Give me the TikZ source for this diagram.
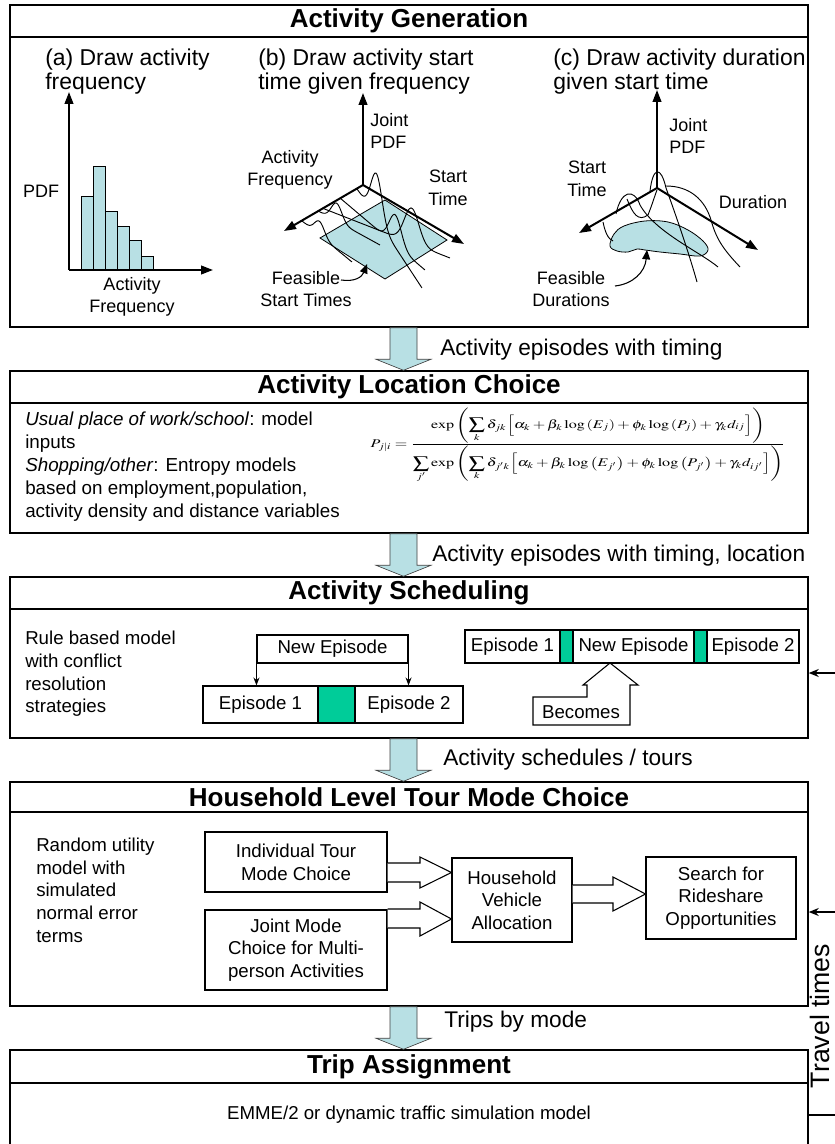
\documentclass[tikz,border=0pt]{standalone}
\usepackage{mathptmx}
\usepackage[no-math]{fontspec}
\setmainfont{Liberation Sans}
\usepackage{graphicx}
\usetikzlibrary{arrows.meta,calc}
\definecolor{lblue}{RGB}{184,224,228}
\definecolor{egreen}{RGB}{0,204,153}
\tikzset{
  frame/.style={draw, line width=1.1pt, inner sep=0pt},
  sz/.style 2 args={minimum width=#1*0.75pt, minimum height=#2*0.75pt},
  divider/.style={line width=1.5pt},
  ttl/.style={font=\bfseries\fontsize{19.5}{22}\selectfont, inner sep=0pt},
  hdr/.style={font=\fontsize{17.2}{18}\selectfont, align=left, inner sep=0pt, anchor=west},
  lab/.style={font=\fontsize{13.5}{17}\selectfont, align=center, inner sep=0pt},
  body/.style={font=\fontsize{14}{17}\selectfont, align=left, inner sep=0pt, anchor=west},
  flow/.style={font=\fontsize{17}{20}\selectfont, inner sep=0pt, anchor=west},
  inbox/.style={draw, line width=0.8pt, inner sep=0pt, font=\fontsize{14}{17}\selectfont, align=center},
  gbox/.style={draw, line width=0.8pt, inner sep=0pt, fill=egreen},
  axis/.style={line width=1.5pt, -{Triangle[length=9pt,width=6.5pt]}},
  curve/.style={line width=0.7pt},
  bar/.style={draw, line width=0.7pt, fill=lblue},
  bigarrow/.style={draw=black!75, line width=0.5pt, fill=lblue},
  hollow/.style={draw, line width=0.8pt, fill=white},
  smallarr/.style={line width=0.8pt, -{Stealth[length=6pt,width=4.5pt]}},
  fbarr/.style={line width=1pt, -{Stealth[length=7.5pt,width=6pt]}},
  cvarr/.style={line width=0.8pt, -{Triangle[length=7pt,width=6pt]}},
}
\newcommand\BigArrow[2]{%
  \draw[bigarrow] ($(#1.south)+(-19,0)$) -- ($(#2.north)+(-19,-11)$) -- ($(#2.north)+(-33,-11)$)
   -- ($(#2.north)+(-5.5,0)$) -- ($(#2.north)+(22,-11)$) -- ($(#2.north)+(8,-11)$)
   -- ($(#1.south)+(8,0)$) -- cycle;}
\newcommand\bump[7]{%
  \draw[curve] plot[domain=0:1,samples=70,smooth]
   ({#1+\x*(#3-#1)},{#2+\x*(#4-#2)-#6*exp(0-((\x-#5)/#7)*((\x-#5)/#7))});}
\begin{document}
\begin{tikzpicture}[x=0.75pt,y=-0.75pt]
\useasboundingbox (0,0) rectangle (834,1144);
\fill[white] (0,0) rectangle (834,1144);

% ---------- Box 1: Activity Generation
\node[frame, sz={798}{322}] (B1) at (409,166) {};
\draw[divider] (10,37) -- (808,37);
\node[ttl] (T1) at (409,21) {Activity Generation};

% (a)
\node[hdr] (Ha) at (45,72) {(a) Draw activity\\frequency};
\foreach \bx/\by in {81/196, 93/166, 105/211, 117/226, 129/240, 141/256}
  \draw[bar] (\bx,270) rectangle ({\bx+12},\by);
\coordinate (aO) at (69,270);
\coordinate (aY) at (69,92);
\coordinate (aX) at (213,270);
\draw[axis] (aO) -- (aY);
\draw[axis] (aO) -- (aX);
\node[lab] (aPDF) at (41,191) {PDF};
\node[lab] (aAF) at (132,297) {Activity\\Frequency};

% (b)
\node[hdr] (Hb) at (258,72) {(b) Draw activity start\\time given frequency};
\draw[line width=0.6pt, fill=lblue] (320,238) -- (385,200) -- (447,240) -- (385,279) -- cycle;
\coordinate (bO) at (363,185);
\coordinate (bY) at (363,93);
\coordinate (bL) at (284,231);
\coordinate (bR) at (464,244);
\bump{357}{189}{422}{288}{0.3}{45}{0.12}
\bump{340}{198}{425}{270}{0.65}{30}{0.1}
\bump{322}{208}{450}{258}{0.7}{35}{0.08}
\bump{302}{221}{352}{262}{0.35}{14}{0.14}
\bump{318}{211}{380}{245}{0.3}{18}{0.12}
\draw[axis] (bO) -- (bY);
\draw[axis] (bO) -- (bL);
\draw[axis] (bO) -- (bR);
\node[lab, anchor=west, align=left] (bJ) at (370,131) {Joint\\PDF};
\node[lab] (bAF) at (290,170) {Activity\\Frequency};
\node[lab] (bST) at (448,188) {Start\\Time};
\node[lab] (bFS) at (306,289) {Feasible\\Start Times};
\coordinate (bFs) at (341,280);
\coordinate (bFt) at (367,264);
\draw[cvarr] (bFs) .. controls (355,282) and (362,277) .. (bFt);

% (c)
\node[hdr] (Hc) at (553,72) {(c) Draw activity duration\\given start time};
\draw[line width=0.6pt, fill=lblue] plot[smooth cycle, tension=0.6] coordinates
  {(610,246) (614,234) (624,226) (645,221) (668,222) (688,230) (703,241) (708,250) (700,256) (680,254) (660,252) (645,250) (637,249) (628,252) (617,251)};
\coordinate (cO) at (657,188);
\coordinate (cY) at (657,90);
\coordinate (cL) at (579,233);
\coordinate (cR) at (758,250);
\draw[curve] (650,191) .. controls (653,166) and (661,166) .. (666,188) .. controls (674,210) and (688,250) .. (697,282);
\draw[curve] (666,186) .. controls (690,186) and (705,200) .. (711,220) .. controls (716,238) and (722,248) .. (740,267);
\draw[curve] (616,214) .. controls (621,190) and (634,188) .. (640,205) .. controls (655,232) and (700,252) .. (718,267);
\draw[curve] (603,222) .. controls (605,232) and (608,239) .. (613,241);
\draw[curve] (627,199) .. controls (633,214) and (638,222) .. (648,215) .. controls (652,205) and (655,195) .. (657,190);
\draw[axis] (cO) -- (cY);
\draw[axis] (cO) -- (cL);
\draw[axis] (cO) -- (cR);
\node[lab, anchor=west, align=left] (cJ) at (669,136) {Joint\\PDF};
\node[lab] (cST) at (587,179) {Start\\Time};
\node[lab] (cD) at (753,202) {Duration};
\node[lab] (cFD) at (571,289) {Feasible\\Durations};
\coordinate (cFs) at (615,286);
\coordinate (cFt) at (647,250);
\draw[cvarr] (cFs) .. controls (633,284) and (645,272) .. (cFt);

% ---------- Box 2: Activity Location Choice
\node[frame, sz={798}{162}] (B2) at (409,452) {};
\draw[divider] (10,403) -- (808,403);
\node[ttl] (T2) at (409,387) {Activity Location Choice};
\node[body, font=\fontsize{14.1}{17.25}\selectfont] (L2) at (25,467)
  {\textit{Usual place of work/school}: model\\inputs\\\textit{Shopping/other}: Entropy models\\based on employment,population,\\activity density and distance variables};
\node[inner sep=0pt] (F2) at (578,445) {\resizebox*{311pt}{56pt}{$\displaystyle
  P_{j|i}=\frac{\displaystyle\exp\left(\sum_k \delta_{jk}\Bigl[\alpha_k+\beta_k\log\left(E_j\right)+\phi_k\log\left(P_j\right)+\gamma_k d_{ij}\Bigr]\right)}
  {\displaystyle\sum_{j'}\exp\left(\sum_k \delta_{j'k}\Bigl[\alpha_k+\beta_k\log\left(E_{j'}\right)+\phi_k\log\left(P_{j'}\right)+\gamma_k d_{ij'}\Bigr]\right)}$}};

% ---------- Box 3: Activity Scheduling
\node[frame, sz={798}{161}] (B3) at (409,657.5) {};
\draw[divider] (10,609) -- (808,609);
\node[ttl] (T3) at (409,593) {Activity Scheduling};
\node[body] (L3) at (25,674) {Rule based model\\with conflict\\resolution\\strategies};
\node[inbox, sz={151}{28}] (NE) at (332.5,649) {New Episode};
\node[inbox, sz={115}{37}] (E1) at (260.5,704.5) {Episode 1};
\node[gbox, sz={37}{37}] (G1) at (336.5,704.5) {};
\node[inbox, sz={108}{37}] (E2) at (409,704.5) {Episode 2};
\draw[smallarr] (NE.south west) -- (NE.south west |- E1.north);
\draw[smallarr] (NE.south east) -- (NE.south east |- E2.north);
\node[inbox, sz={95}{33}] (R1) at (512.5,646.5) {Episode 1};
\node[gbox, sz={13}{33}] (RG1) at (566.5,646.5) {};
\node[inbox, sz={121}{33}] (RN) at (633.5,646.5) {New Episode};
\node[gbox, sz={13}{33}] (RG2) at (700.5,646.5) {};
\node[inbox, sz={92}{33}] (R2) at (753,646.5) {Episode 2};
\coordinate (btip) at (610,663);
\draw[line width=0.8pt, fill=white] (587,697) -- (587,685) -- (583,685) -- (btip) -- (638,685) -- (630,685)
  -- (630,725) -- (533,725) -- (533,697) -- cycle;
\node[lab, font=\fontsize{14}{17}\selectfont] (BC) at (581,712) {Becomes};

% ---------- Box 4: Household Level Tour Mode Choice
\node[frame, sz={798}{224}] (B4) at (409,894) {};
\draw[divider] (10,812) -- (808,812);
\node[ttl] (T4) at (409,797) {Household Level Tour Mode Choice};
\node[body] (L4) at (36,890) {Random utility\\model with\\simulated\\normal error\\terms};
\node[inbox, sz={182}{60}] (IT) at (296,862) {Individual Tour\\Mode Choice};
\node[inbox, sz={182}{80}] (JM) at (296,950) {Joint Mode\\Choice for Multi-\\person Activities};
\node[inbox, sz={120}{84}] (HV) at (512,900) {Household\\Vehicle\\Allocation};
\node[inbox, sz={150}{82}] (SR) at (721,898) {Search for\\Rideshare\\Opportunities};
\draw[hollow] (IT.east |- 0,863) -- (420,863) -- (420,857) -- (HV.west |- 0,872.5) -- (420,888) -- (420,882) -- (IT.east |- 0,882);
\draw[hollow] (JM.east |- 0,909) -- (420,909) -- (420,902) -- (HV.west |- 0,919) -- (420,936) -- (420,928) -- (JM.east |- 0,928);
\draw[hollow] (HV.east |- 0,885) -- (613,885) -- (613,877) -- (SR.west |- 0,894) -- (613,911) -- (613,903) -- (HV.east |- 0,903);

% ---------- Box 5: Trip Assignment
\node[frame, sz={798}{130}] (B5) at (409,1115) {};
\draw[divider] (10,1083) -- (808,1083);
\node[ttl] (T5) at (409,1067) {Trip Assignment};
\node[lab, font=\fontsize{14}{17}\selectfont] (EM) at (B5.center) {EMME/2 or dynamic traffic simulation model};

% ---------- Flow arrows and labels
\BigArrow{B1}{B2}
\BigArrow{B2}{B3}
\BigArrow{B3}{B4}
\BigArrow{B4}{B5}
\node[flow] (A1) at (440,350) {Activity episodes with timing};
\node[flow] (A2) at (432,556) {Activity episodes with timing, location};
\node[flow] (A3) at (443,760) {Activity schedules / tours};
\node[flow] (A4) at (444,1022) {Trips by mode};

% ---------- Feedback
\coordinate (fTop) at (836.5,673);
\coordinate (fMid) at (836.5,912);
\coordinate (fBot) at (836.5,1115);
\draw[line width=1pt] (B5.east) -- (fBot) -- (fTop);
\draw[fbarr] (fTop) -- (fTop -| B3.east);
\draw[fbarr] (fMid) -- (fMid -| B4.east);
\node[rotate=90, inner sep=0pt, font=\fontsize{20}{24}\selectfont] (TT) at (820,1016) {Travel times};
\end{tikzpicture}
\end{document}
